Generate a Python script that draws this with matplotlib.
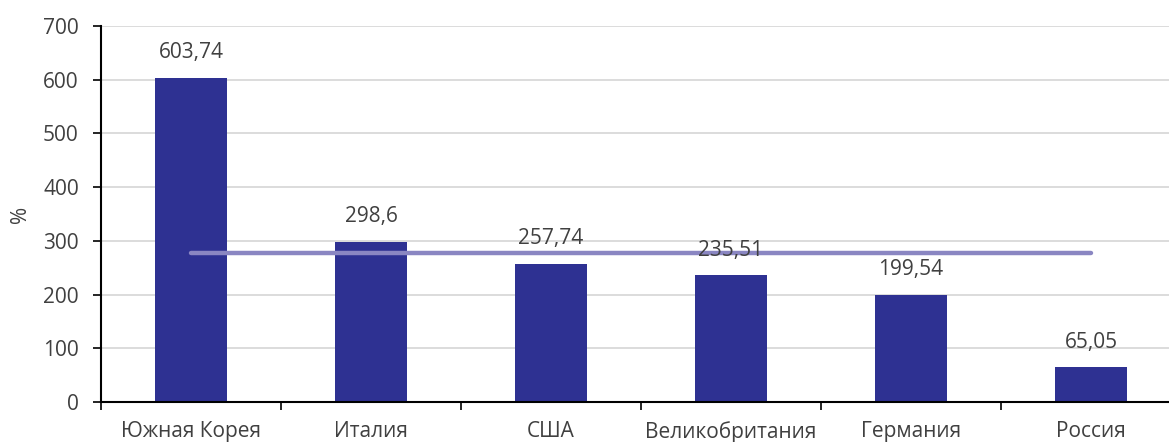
import matplotlib.pyplot as plt

countries = ['Южная Корея', 'Италия', 'США', 'Великобритания', 'Германия', 'Россия']
values = [603.74, 298.6, 257.74, 235.51, 199.54, 65.05]
value_labels = ['603,74', '298,6', '257,74', '235,51', '199,54', '65,05']
average = [276.7, 276.7]

plt.rcParams['font.family'] = ['Open Sans', 'DejaVu Sans']
fs = 15

fig = plt.figure(figsize=(11.69, 4.42), dpi=100)
ax = fig.add_axes([101 / 1169, 1 - 402 / 442, 1080 / 1169, 376 / 442])

x = list(range(len(countries)))
ax.bar(x, values, width=0.405, color='#2E3192', zorder=2)
ax.plot([x[0], x[-1]], average, color='#8A86C2', lw=3.2,
        solid_capstyle='round', zorder=3)

for xi, v, lab in zip(x, values, value_labels):
    ax.annotate(lab, (xi, v), xytext=(0, 18), textcoords='offset points',
                ha='center', va='center', fontsize=fs, color='#404040', zorder=4)

ax.set_xlim(-0.5, 5.5)
ax.set_ylim(0, 700)
ax.set_yticks(range(0, 701, 100))
ax.yaxis.grid(True, color='#D9D9D9', lw=1.3, zorder=0)
ax.set_axisbelow(True)

ax.set_xticks([i - 0.5 for i in range(len(countries) + 1)])
ax.set_xticklabels([])
ax.set_xticks(x, minor=True)
ax.set_xticklabels(countries, minor=True)
ax.tick_params(axis='x', which='major', length=6, width=1.2, direction='out', color='black')
ax.tick_params(axis='x', which='minor', length=0, pad=14, labelsize=fs, labelcolor='#404040')
ax.tick_params(axis='y', length=6, width=1.2, direction='out', color='black',
               labelsize=fs, labelcolor='#404040', pad=10)

for side in ['top', 'right']:
    ax.spines[side].set_visible(False)
for side in ['left', 'bottom']:
    ax.spines[side].set_linewidth(1.5)
    ax.spines[side].set_color('black')

ax.set_ylabel('%', fontsize=fs, color='#404040', labelpad=9)

fig.savefig('out.png', dpi=100)
